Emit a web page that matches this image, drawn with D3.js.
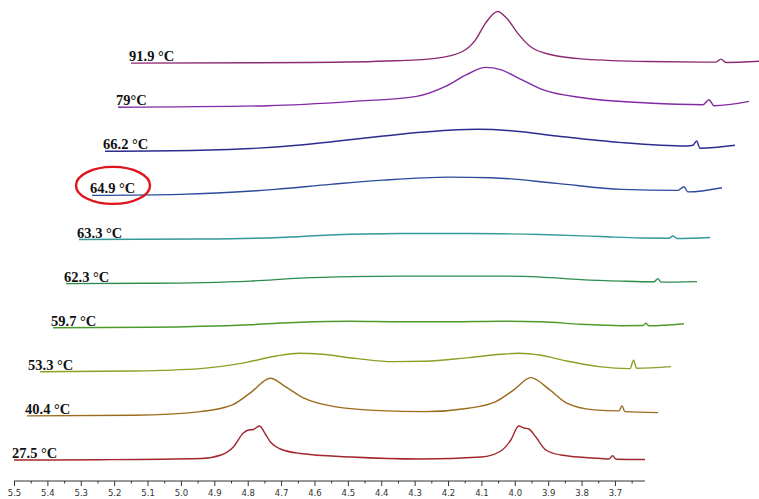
<!DOCTYPE html>
<html>
<head>
<meta charset="utf-8">
<script src="https://cdn.jsdelivr.net/npm/d3@7"></script>
<style>
  html, body { margin: 0; padding: 0; background: #fff; }
  svg { display: block; }
</style>
</head>
<body>
<svg id="chart" width="759" height="499"></svg>
<script>
// Variable-temperature 1H NMR spectra, stacked with a diagonal offset.
// Each spectrum: [chemical shift (ppm), intensity (a.u.)]
const spec275 = [[5.50,0],[5.24,0.3],[4.94,1.5],[4.88,5],[4.843,13],[4.813,27],[4.798,30],[4.783,30.5],[4.765,34],[4.747,26],[4.732,18],[4.702,11],[4.642,6.5],[4.49,3],[4.28,1],[4.10,3],[4.042,9],[4.012,20],[3.988,34],[3.973,32],[3.958,31],[3.937,23],[3.907,10],[3.862,5],[3.742,1.5],[3.718,1],[3.707,4.3],[3.697,0.8],[3.61,0.5]];
const spec404 = [[5.50,0],[5.18,0.7],[4.98,4.3],[4.885,11],[4.831,23],[4.771,37.7],[4.726,29.3],[4.672,18],[4.579,9.3],[4.444,5.3],[4.309,4.3],[4.177,7.7],[4.096,14.3],[4.042,26],[3.991,38.3],[3.934,26],[3.883,12.7],[3.802,6],[3.727,5],[3.718,10],[3.709,4.3],[3.61,3.3]];
const spec533 = [[5.50,0],[5.22,0.8],[5.02,3.2],[4.885,9.2],[4.792,15.8],[4.723,18.5],[4.657,17.5],[4.549,13.2],[4.444,10.2],[4.348,10.5],[4.216,14.2],[4.12,17.5],[4.066,18.5],[4.00,16.5],[3.922,10.8],[3.826,5.2],[3.733,3.2],[3.722,11.5],[3.713,3.5],[3.61,5.2]];
const spec597 = [[5.50,0],[5.21,0.5],[4.909,3],[4.759,5.5],[4.609,6.5],[4.459,6],[4.309,6],[4.159,6.5],[4.039,6],[3.919,3.5],[3.799,2],[3.733,2.2],[3.724,4.5],[3.715,2],[3.61,4]];
const spec623 = [[5.50,0],[5.25,0.3],[4.948,2.5],[4.798,5.5],[4.648,7],[4.498,7.5],[4.348,7.5],[4.198,7.5],[4.078,6.5],[3.958,4],[3.838,2.5],[3.739,1.8],[3.727,5],[3.718,1.5],[3.61,2]];
const spec633 = [[5.50,0],[5.137,0.5],[4.897,2],[4.747,4.5],[4.537,6],[4.327,6],[4.117,5],[3.937,3],[3.817,1.5],[3.733,1.3],[3.721,3.5],[3.709,1],[3.61,2]];
const spec649 = [[5.50,0],[5.236,1],[4.951,6],[4.786,11],[4.627,15.3],[4.432,18.3],[4.303,17.7],[4.108,12],[3.913,6],[3.745,5],[3.727,8.7],[3.715,3.5],[3.613,7.7]];
const spec662 = [[5.50,0],[5.215,1],[4.924,6],[4.795,10.5],[4.666,15.3],[4.471,21],[4.381,22],[4.276,20.3],[4.147,15.3],[3.952,8.7],[3.757,5.3],[3.739,6],[3.728,10.3],[3.718,3],[3.613,6]];
const spec790 = [[5.50,0],[5.05,1.5],[4.795,5.8],[4.606,10.8],[4.519,20.8],[4.456,32.5],[4.399,39.8],[4.354,37.5],[4.291,27.5],[4.228,17.5],[4.102,9.2],[3.913,4.2],[3.748,2.5],[3.730,7.5],[3.715,1.5],[3.61,5.8]];
const spec919 = [[5.50,0],[4.963,0.6],[4.708,2.3],[4.582,5],[4.507,11.6],[4.468,23.3],[4.438,40],[4.402,51.6],[4.375,45],[4.342,30],[4.304,16.6],[4.241,8.3],[4.141,4],[3.952,1.6],[3.748,1],[3.733,4],[3.718,0.6],[3.607,2]];

const temperatures = ["27.5 °C", "40.4 °C", "53.3 °C", "59.7 °C", "62.3 °C", "63.3 °C", "64.9 °C", "66.2 °C", "79°C", "91.9 °C"];
const spectra = [spec275, spec404, spec533, spec597, spec623, spec633, spec649, spec662, spec790, spec919];
const colors = ["#a3262e", "#9a6b1c", "#8ba126", "#4c9a2a", "#2d8c4c", "#34999a", "#2b4c9c", "#2c2b8e", "#8229a3", "#8c2a70"];
const majorTicks = [5.5, 5.4, 5.3, 5.2, 5.1, 5.0, 4.9, 4.8, 4.7, 4.6, 4.5, 4.4, 4.3, 4.2, 4.1, 4.0, 3.9, 3.8, 3.7];
const tickLabels = ["5.5", "5.4", "5.3", "5.2", "5.1", "5.0", "4.9", "4.8", "4.7", "4.6", "4.5", "4.4", "4.3", "4.2", "4.1", "4.0", "3.9", "3.8", "3.7"];
const minorTicks = [5.45, 5.35, 5.25, 5.15, 5.05, 4.95, 4.85, 4.75, 4.65, 4.55, 4.45, 4.35, 4.25, 4.15, 4.05, 3.95, 3.85, 3.75, 3.65];
const highlighted = "64.9 °C";

// layout
const svg = d3.select("#chart");
const baseY = 460;          // baseline of the lowest spectrum
const stepX = 13;           // horizontal offset between spectra
const stepY = 44.1;         // vertical offset between spectra
const axisY = 481;

const x = d3.scaleLinear().domain([5.5, 3.61]).range([14, 645]);
const amp = d3.scaleLinear().domain([0, 60]).range([0, 60]);

const line = d3.line()
  .x(d => x(d[0]))
  .y(d => -amp(d[1]))
  .curve(d3.curveMonotoneX);

// spectra
const traces = svg.append("g").selectAll("g")
  .data(spectra)
  .join("g")
  .attr("transform", (d, i) => `translate(${stepX * i},${baseY - stepY * i})`);

traces.append("path")
  .attr("d", d => line(d))
  .attr("fill", "none")
  .attr("stroke", (d, i) => colors[i])
  .attr("stroke-width", 1.4)
  .attr("stroke-linejoin", "round");

// temperature labels
const labelShift = i => (i === 2 ? -12 : -2);
traces.append("text")
  .attr("x", (d, i) => x(5.5) + labelShift(i))
  .attr("y", -2)
  .attr("font-family", "'Liberation Serif', 'Times New Roman', serif")
  .attr("font-weight", "bold")
  .attr("font-size", 14.5)
  .attr("fill", "#111")
  .text((d, i) => temperatures[i]);

// highlight ring around the 64.9 °C label
const hi = temperatures.indexOf(highlighted);
svg.append("ellipse")
  .attr("cx", x(5.5) + stepX * hi + 21)
  .attr("cy", baseY - stepY * hi - 10)
  .attr("rx", 37)
  .attr("ry", 18.5)
  .attr("fill", "none")
  .attr("stroke", "#e0151b")
  .attr("stroke-width", 2.4);

// chemical-shift axis
const axisMajor = d3.axisBottom(x)
  .tickValues(majorTicks)
  .tickFormat((d, i) => tickLabels[i])
  .tickSize(5)
  .tickSizeOuter(0)
  .tickPadding(4);

const gAxis = svg.append("g")
  .attr("transform", `translate(0,${axisY})`)
  .call(axisMajor);

gAxis.select(".domain").attr("stroke", "#333").attr("d", `M${x(5.5)},0H${x(3.61)}`);
gAxis.selectAll(".tick line").attr("stroke", "#333");
gAxis.selectAll(".tick text")
  .attr("font-family", "'DejaVu Sans', Verdana, sans-serif")
  .attr("font-size", 8.5)
  .attr("fill", "#333");

const axisMinor = d3.axisBottom(x)
  .tickValues(minorTicks)
  .tickFormat("")
  .tickSize(2.5)
  .tickSizeOuter(0);

const gMinor = svg.append("g")
  .attr("transform", `translate(0,${axisY})`)
  .call(axisMinor);
gMinor.select(".domain").remove();
gMinor.selectAll(".tick line").attr("stroke", "#333");
</script>
</body>
</html>
